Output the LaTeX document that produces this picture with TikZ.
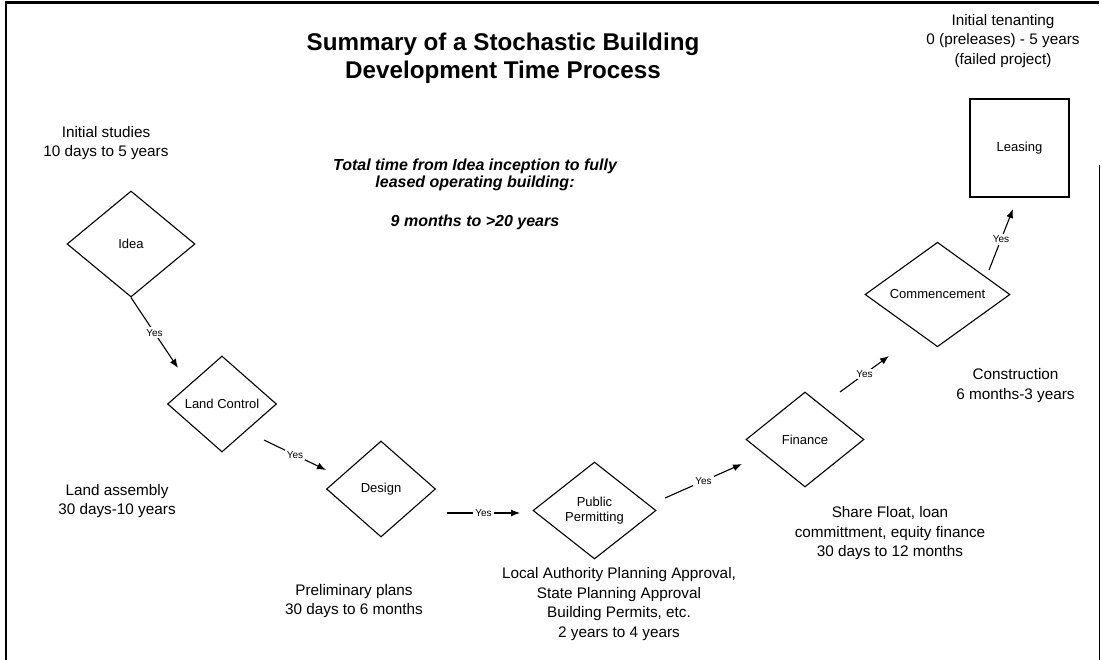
\documentclass[tikz,border=0pt]{standalone}
\usepackage{fontspec}
\setmainfont{Liberation Sans}
\usetikzlibrary{shapes.geometric,arrows.meta}
\begin{document}
\begin{tikzpicture}[x=1pt,y=-1pt,
  stage/.style={diamond, draw, line width=1.1pt, inner sep=0pt, align=center,
    font=\fontsize{13}{15}\selectfont},
  box/.style={rectangle, draw, line width=1.1pt, inner sep=0pt,
    font=\fontsize{13}{15}\selectfont},
  note/.style={align=center, inner sep=0pt, font=\fontsize{15.3}{19.5}\selectfont},
  flow/.style={line width=1.1pt, -{Latex[length=9pt,width=7pt]}},
  yes/.style={fill=white, inner sep=2pt, font=\fontsize{10}{12}\selectfont}]
\useasboundingbox (0,0) rectangle (1102,660);

% frame
\draw[line width=3pt] (4.5,3) -- (1099,3);
\draw[line width=2.5pt] (6,3) -- (6,660);
\draw[line width=1pt] (1099.5,165) -- (1099.5,660);

% heading and overall duration
\node[align=center, inner sep=0pt, font=\bfseries\fontsize{24.2}{28}\selectfont]
  (title) at (503,58) {Summary of a Stochastic Building\\Development Time Process};
\node[align=center, inner sep=0pt, font=\bfseries\itshape\fontsize{16}{17}\selectfont]
  (total) at (475,194) {Total time from Idea inception to fully\\leased operating building:\\[22pt]9 months to >20 years};

% stages
\node[stage, minimum width=128pt, minimum height=106pt] (idea) at (131,244) {Idea};
\node[stage, minimum width=109pt, minimum height=96pt] (land) at (222,404) {Land Control};
\node[stage, minimum width=109pt, minimum height=96pt] (design) at (381,489) {Design};
\node[stage, minimum width=123pt, minimum height=97pt] (permit) at (594.5,510.5) {Public\\Permitting};
\node[stage, minimum width=118pt, minimum height=95pt] (finance) at (805,439.5) {Finance};
\node[stage, minimum width=145pt, minimum height=97pt] (commence) at (937.5,294.5) {Commencement};
\node[box, minimum width=99pt, minimum height=98pt] (leasing) at (1019.5,148) {Leasing};

% durations
\node[note] (studies) at (106,143) {Initial studies\\10 days to 5 years};
\node[note] (assembly) at (117,501) {Land assembly\\30 days-10 years};
\node[note] (plans) at (354,601) {Preliminary plans\\30 days to 6 months};
\node[note] (approval) at (619,604) {Local Authority Planning Approval,\\State Planning Approval\\Building Permits, etc.\\2 years to 4 years};
\node[note] (float) at (890,533.5) {Share Float, loan\\committment, equity finance\\30 days to 12 months};
\node[note] (build) at (1015.5,385.5) {Construction\\6 months-3 years};
\node[note] (tenant) at (1003,41) {Initial tenanting\\0 (preleases) - 5 years\\(failed project)};

% transitions
\coordinate (a1) at (178,368);
\coordinate (b0) at (264,440);
\coordinate (b1) at (326,470);
\coordinate (c0) at (447,513);
\coordinate (c1) at (520,513);
\coordinate (d0) at (665,498);
\coordinate (d1) at (742,464);
\coordinate (e0) at (840,392);
\coordinate (e1) at (889,356);
\coordinate (f0) at (989,270);
\coordinate (f1) at (1013,209);
\draw[flow] (idea.south) -- node[yes] {Yes} (a1);
\draw[flow] (b0) -- node[yes] {Yes} (b1);
\draw[flow] (c0) -- node[yes] {Yes} (c1);
\draw[flow] (d0) -- node[yes] {Yes} (d1);
\draw[flow] (e0) -- node[yes] {Yes} (e1);
\draw[flow] (f0) -- node[yes] {Yes} (f1);
\end{tikzpicture}
\end{document}
